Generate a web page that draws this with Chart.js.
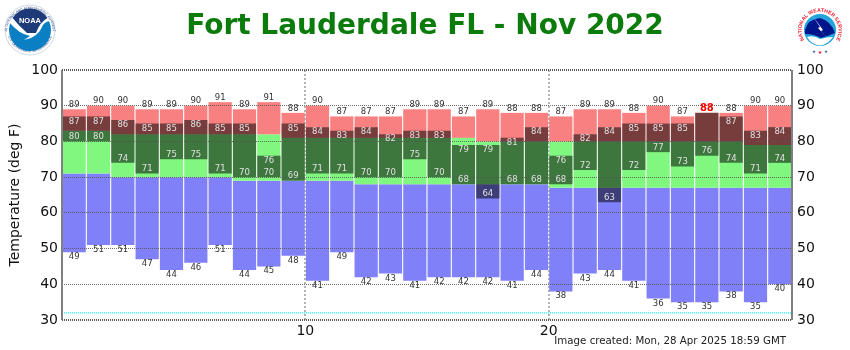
<!DOCTYPE html>
<html>
<head>
<meta charset="utf-8">
<title>Fort Lauderdale FL - Nov 2022</title>
<script src="https://cdn.jsdelivr.net/npm/chart.js@4"></script>
<style>
  html, body { margin: 0; padding: 0; background: #fff; }
  #wrap { position: relative; width: 850px; height: 350px; overflow: hidden; }
  canvas { position: absolute; left: 0; top: 0; }
  svg { position: absolute; }
</style>
</head>
<body>
<div id="wrap">
  <canvas id="climateChart" width="850" height="350"></canvas>

  <!-- NOAA logo -->
  <svg style="left:0;top:0" width="60" height="60" viewBox="0 0 60 60">
    <circle cx="30" cy="30" r="25" fill="#fff" stroke="#9fb0c8" stroke-width="0.5"/>
    <defs>
      <path id="noaaTop" d="M7 32 A23 23 0 0 1 53 32"/>
      <path id="noaaBottom" d="M8 36 A23 23 0 0 0 52 36"/>
    </defs>
    <text font-family="Liberation Sans" font-size="3.4" fill="#1f3a78">
      <textPath href="#noaaTop" startOffset="50%" text-anchor="middle">NATIONAL OCEANIC AND ATMOSPHERIC ADMINISTRATION</textPath>
    </text>
    <text font-family="Liberation Sans" font-size="3.4" fill="#1f3a78">
      <textPath href="#noaaBottom" startOffset="50%" text-anchor="middle">U.S. DEPARTMENT OF COMMERCE</textPath>
    </text>
    <circle cx="30" cy="30" r="21" fill="#0a7fc4"/>
    <path d="M12.5 18 A21 21 0 0 1 47.5 18 Q40 22 36 33 L27 33 Q20 27 12.5 18z" fill="#1f3a78"/>
    <path d="M9 22 Q19 34 30 36 Q27 38 24 40 Q38 38 43 25 Q46 21 51 21 L47.5 18 Q40 22 36 33 L27 33 Q20 27 12.5 18z" fill="#fff"/>
    <text x="30" y="22.5" text-anchor="middle" font-family="Liberation Sans" font-weight="bold" font-size="7.5" fill="#fff">NOAA</text>
  </svg>

  <!-- NWS logo -->
  <svg style="left:790px;top:0" width="60" height="60" viewBox="0 0 60 60">
    <defs>
      <path id="nwsRing" d="M16.5 43 A18.5 18.5 0 1 1 43.5 43"/>
    </defs>
    <text font-family="Liberation Sans" font-weight="bold" font-size="5.2" fill="#ee2233">
      <textPath href="#nwsRing" startOffset="50%" text-anchor="middle">NATIONAL WEATHER SERVICE</textPath>
    </text>
    <circle cx="30" cy="30" r="16" fill="#25a3dc"/>
    <path d="M15 30 Q18 19 30 18 Q41 21 45 33 Q38 36 31 38 Q24 34 15 34z" fill="#00148c"/>
    <path d="M17 37 Q24 35 30 39 Q37 37 43 37 Q37 45 30 45.5 Q22 45 17 37z" fill="#fff"/>
    <path d="M22 15 L30 27 L28 28 L39 40 L31 31 L33 30z" fill="#fff"/>
    <text x="30" y="53.5" text-anchor="middle" font-family="DejaVu Sans" font-size="5" fill="#ee2233">★</text>
    <text x="24" y="52.5" text-anchor="middle" font-family="DejaVu Sans" font-size="4" fill="#1a2f9c">★</text>
    <text x="36" y="52.5" text-anchor="middle" font-family="DejaVu Sans" font-size="4" fill="#1a2f9c">★</text>
  </svg>
</div>

<script>
// Values, one entry per day of Nov 2022
var days = [1, 2, 3, 4, 5, 6, 7, 8, 9, 10, 11, 12, 13, 14, 15, 16, 17, 18, 19, 20, 21, 22, 23, 24, 25, 26, 27, 28, 29, 30];
var recordHigh = [89, 90, 90, 89, 89, 90, 91, 89, 91, 88, 90, 87, 87, 87, 89, 89, 87, 89, 88, 88, 87, 89, 89, 88, 90, 87, 88, 88, 90, 90];
var recordLow = [49, 51, 51, 47, 44, 46, 51, 44, 45, 48, 41, 49, 42, 43, 41, 42, 42, 42, 41, 44, 38, 43, 44, 41, 36, 35, 35, 38, 35, 40];
var normalHigh = [83, 83, 82, 82, 82, 82, 82, 82, 82, 81, 81, 81, 81, 81, 81, 81, 81, 80, 80, 80, 80, 80, 80, 80, 80, 80, 80, 80, 79, 79];
var normalLow = [71, 71, 70, 70, 70, 70, 70, 69, 69, 69, 69, 69, 68, 68, 68, 68, 68, 68, 68, 68, 67, 67, 67, 67, 67, 67, 67, 67, 67, 67];
var observedHigh = [87, 87, 86, 85, 85, 86, 85, 85, 76, 85, 84, 83, 84, 82, 83, 83, 79, 79, 81, 84, 76, 82, 84, 85, 85, 85, 88, 87, 83, 84];
var observedLow = [80, 80, 74, 71, 75, 75, 71, 70, 70, 69, 71, 71, 70, 70, 75, 70, 68, 64, 68, 68, 68, 72, 63, 72, 77, 73, 76, 74, 71, 74];
var freezing = [32, 32];
var freezingX = [0, 30];
var xTicks = [10, 20];
var yTicks = [30, 40, 50, 60, 70, 80, 90, 100];

var titleText = 'Fort Lauderdale FL - Nov 2022';
var createdText = 'Image created: Mon, 28 Apr 2025 18:59 GMT';

var fontName = '"DejaVu Sans", Verdana, sans-serif';

// each day fills the slot between day-1 and day on the linear axis
function floatBars(lows, highs) {
    return days.map(function (d, i) {
        return { x: d - 0.5, y: [lows[i], highs[i]] };
    });
}

function barSet(label, lows, highs, color) {
    return {
        label: label,
        data: floatBars(lows, highs),
        backgroundColor: color,
        borderWidth: 0,
        grouped: false,
        barPercentage: 0.955,
        categoryPercentage: 1,
        xAxisID: 'x',
        yAxisID: 'y'
    };
}

// Labels and the frame around the plot
var overlayPlugin = {
    id: 'overlay',
    afterDraw: function (chart) {
        var ctx = chart.ctx;
        var area = chart.chartArea;
        var x = chart.scales.x;
        var y = chart.scales.y;

        ctx.save();
        ctx.textAlign = 'center';
        ctx.textBaseline = 'middle';
        days.forEach(function (d, i) {
            var cx = x.getPixelForValue(d - 0.5);
            var tied = observedHigh[i] >= recordHigh[i];

            if (tied) {
                ctx.font = 'bold 10px ' + fontName;
                ctx.fillStyle = '#ff0000';
            } else {
                ctx.font = '8.5px ' + fontName;
                ctx.fillStyle = '#333333';
            }
            ctx.fillText(recordHigh[i], cx, y.getPixelForValue(recordHigh[i]) - 4.5);

            ctx.font = '8.5px ' + fontName;
            ctx.fillStyle = '#333333';
            ctx.fillText(recordLow[i], cx, y.getPixelForValue(recordLow[i]) + 4.8);

            ctx.font = '8.5px ' + fontName;
            ctx.fillStyle = '#e0e0e0';
            if (!tied) {
                ctx.fillText(observedHigh[i], cx, y.getPixelForValue(observedHigh[i]) + 5);
            }
            ctx.fillText(observedLow[i], cx, y.getPixelForValue(observedLow[i]) - 4.5);
        });

        // left and right edges solid, top and bottom dotted
        ctx.lineWidth = 2;
        ctx.strokeStyle = '#808080';
        ctx.beginPath();
        ctx.moveTo(area.left, area.top);
        ctx.lineTo(area.left, area.bottom);
        ctx.moveTo(area.right, area.top);
        ctx.lineTo(area.right, area.bottom);
        ctx.stroke();

        ctx.strokeStyle = '#5a5a5a';
        ctx.setLineDash([1, 1]);
        ctx.beginPath();
        ctx.moveTo(area.left, area.top);
        ctx.lineTo(area.right, area.top);
        ctx.moveTo(area.left, area.bottom);
        ctx.lineTo(area.right, area.bottom);
        ctx.stroke();
        ctx.setLineDash([]);

        ctx.font = '10.25px ' + fontName;
        ctx.fillStyle = '#222222';
        ctx.textAlign = 'right';
        ctx.fillText(createdText, 786, 341);
        ctx.restore();
    }
};

var ctx = document.getElementById('climateChart').getContext('2d');
var climateChart = new Chart(ctx, {
    type: 'bar',
    data: {
        datasets: [
            // first dataset is painted last, so the observed bar sits on top
            barSet('Observed', observedLow, observedHigh, 'rgba(0, 0, 0, 0.52)'),
            barSet('Above normal', normalHigh, recordHigh, '#f88080'),
            barSet('Normal', normalLow, normalHigh, '#80f880'),
            barSet('Below normal', recordLow, normalLow, '#8080f8'),
            {
                type: 'line',
                label: 'Freezing',
                data: freezingX.map(function (v, i) { return { x: v, y: freezing[i] }; }),
                borderColor: '#33ffff',
                borderWidth: 1.5,
                borderDash: [1, 1],
                pointRadius: 0,
                xAxisID: 'x',
                yAxisID: 'y'
            }
        ]
    },
    plugins: [overlayPlugin],
    options: {
        responsive: false,
        animation: false,
        layout: { padding: 0 },
        plugins: {
            legend: { display: false },
            tooltip: { enabled: false },
            title: {
                display: true,
                text: titleText,
                color: '#0b7b0b',
                font: { family: fontName, size: 28, weight: 'bold', lineHeight: 1 },
                padding: { top: 13, bottom: 29 }
            }
        },
        scales: {
            x: {
                type: 'linear',
                min: 0,
                max: 30,
                offset: false,
                afterBuildTicks: function (axis) {
                    axis.ticks = xTicks.map(function (v) { return { value: v }; });
                },
                afterFit: function (axis) { axis.height = 30; },
                grid: { offset: false, color: '#b4b4b4', lineWidth: 2, drawTicks: false, z: -1 },
                border: { display: false, dash: [2, 2] },
                ticks: {
                    color: '#111111',
                    padding: 3,
                    maxRotation: 0,
                    font: { family: fontName, size: 14 }
                }
            },
            y: {
                position: 'left',
                min: 30,
                max: 100,
                afterBuildTicks: function (axis) {
                    axis.ticks = yTicks.map(function (v) { return { value: v }; });
                },
                afterFit: function (axis) { axis.width = 62; },
                title: {
                    display: true,
                    text: 'Temperature (deg F)',
                    color: '#111111',
                    padding: { top: 7, bottom: 0 },
                    font: { family: fontName, size: 14 }
                },
                grid: {
                    color: function (c) {
                        return (c.tick.value === 30 || c.tick.value === 100) ? 'transparent' : 'rgba(85, 85, 85, 0.85)';
                    },
                    lineWidth: 1,
                    drawTicks: false,
                    z: 1
                },
                border: { display: false, dash: [1, 1] },
                ticks: {
                    color: '#111111',
                    padding: 4,
                    font: { family: fontName, size: 14 }
                }
            },
            y2: {
                position: 'right',
                min: 30,
                max: 100,
                afterBuildTicks: function (axis) {
                    axis.ticks = yTicks.map(function (v) { return { value: v }; });
                },
                afterFit: function (axis) { axis.width = 58; },
                grid: { display: false, drawTicks: false },
                border: { display: false },
                ticks: {
                    color: '#111111',
                    padding: 5,
                    font: { family: fontName, size: 14 }
                }
            }
        }
    }
});
</script>
</body>
</html>
